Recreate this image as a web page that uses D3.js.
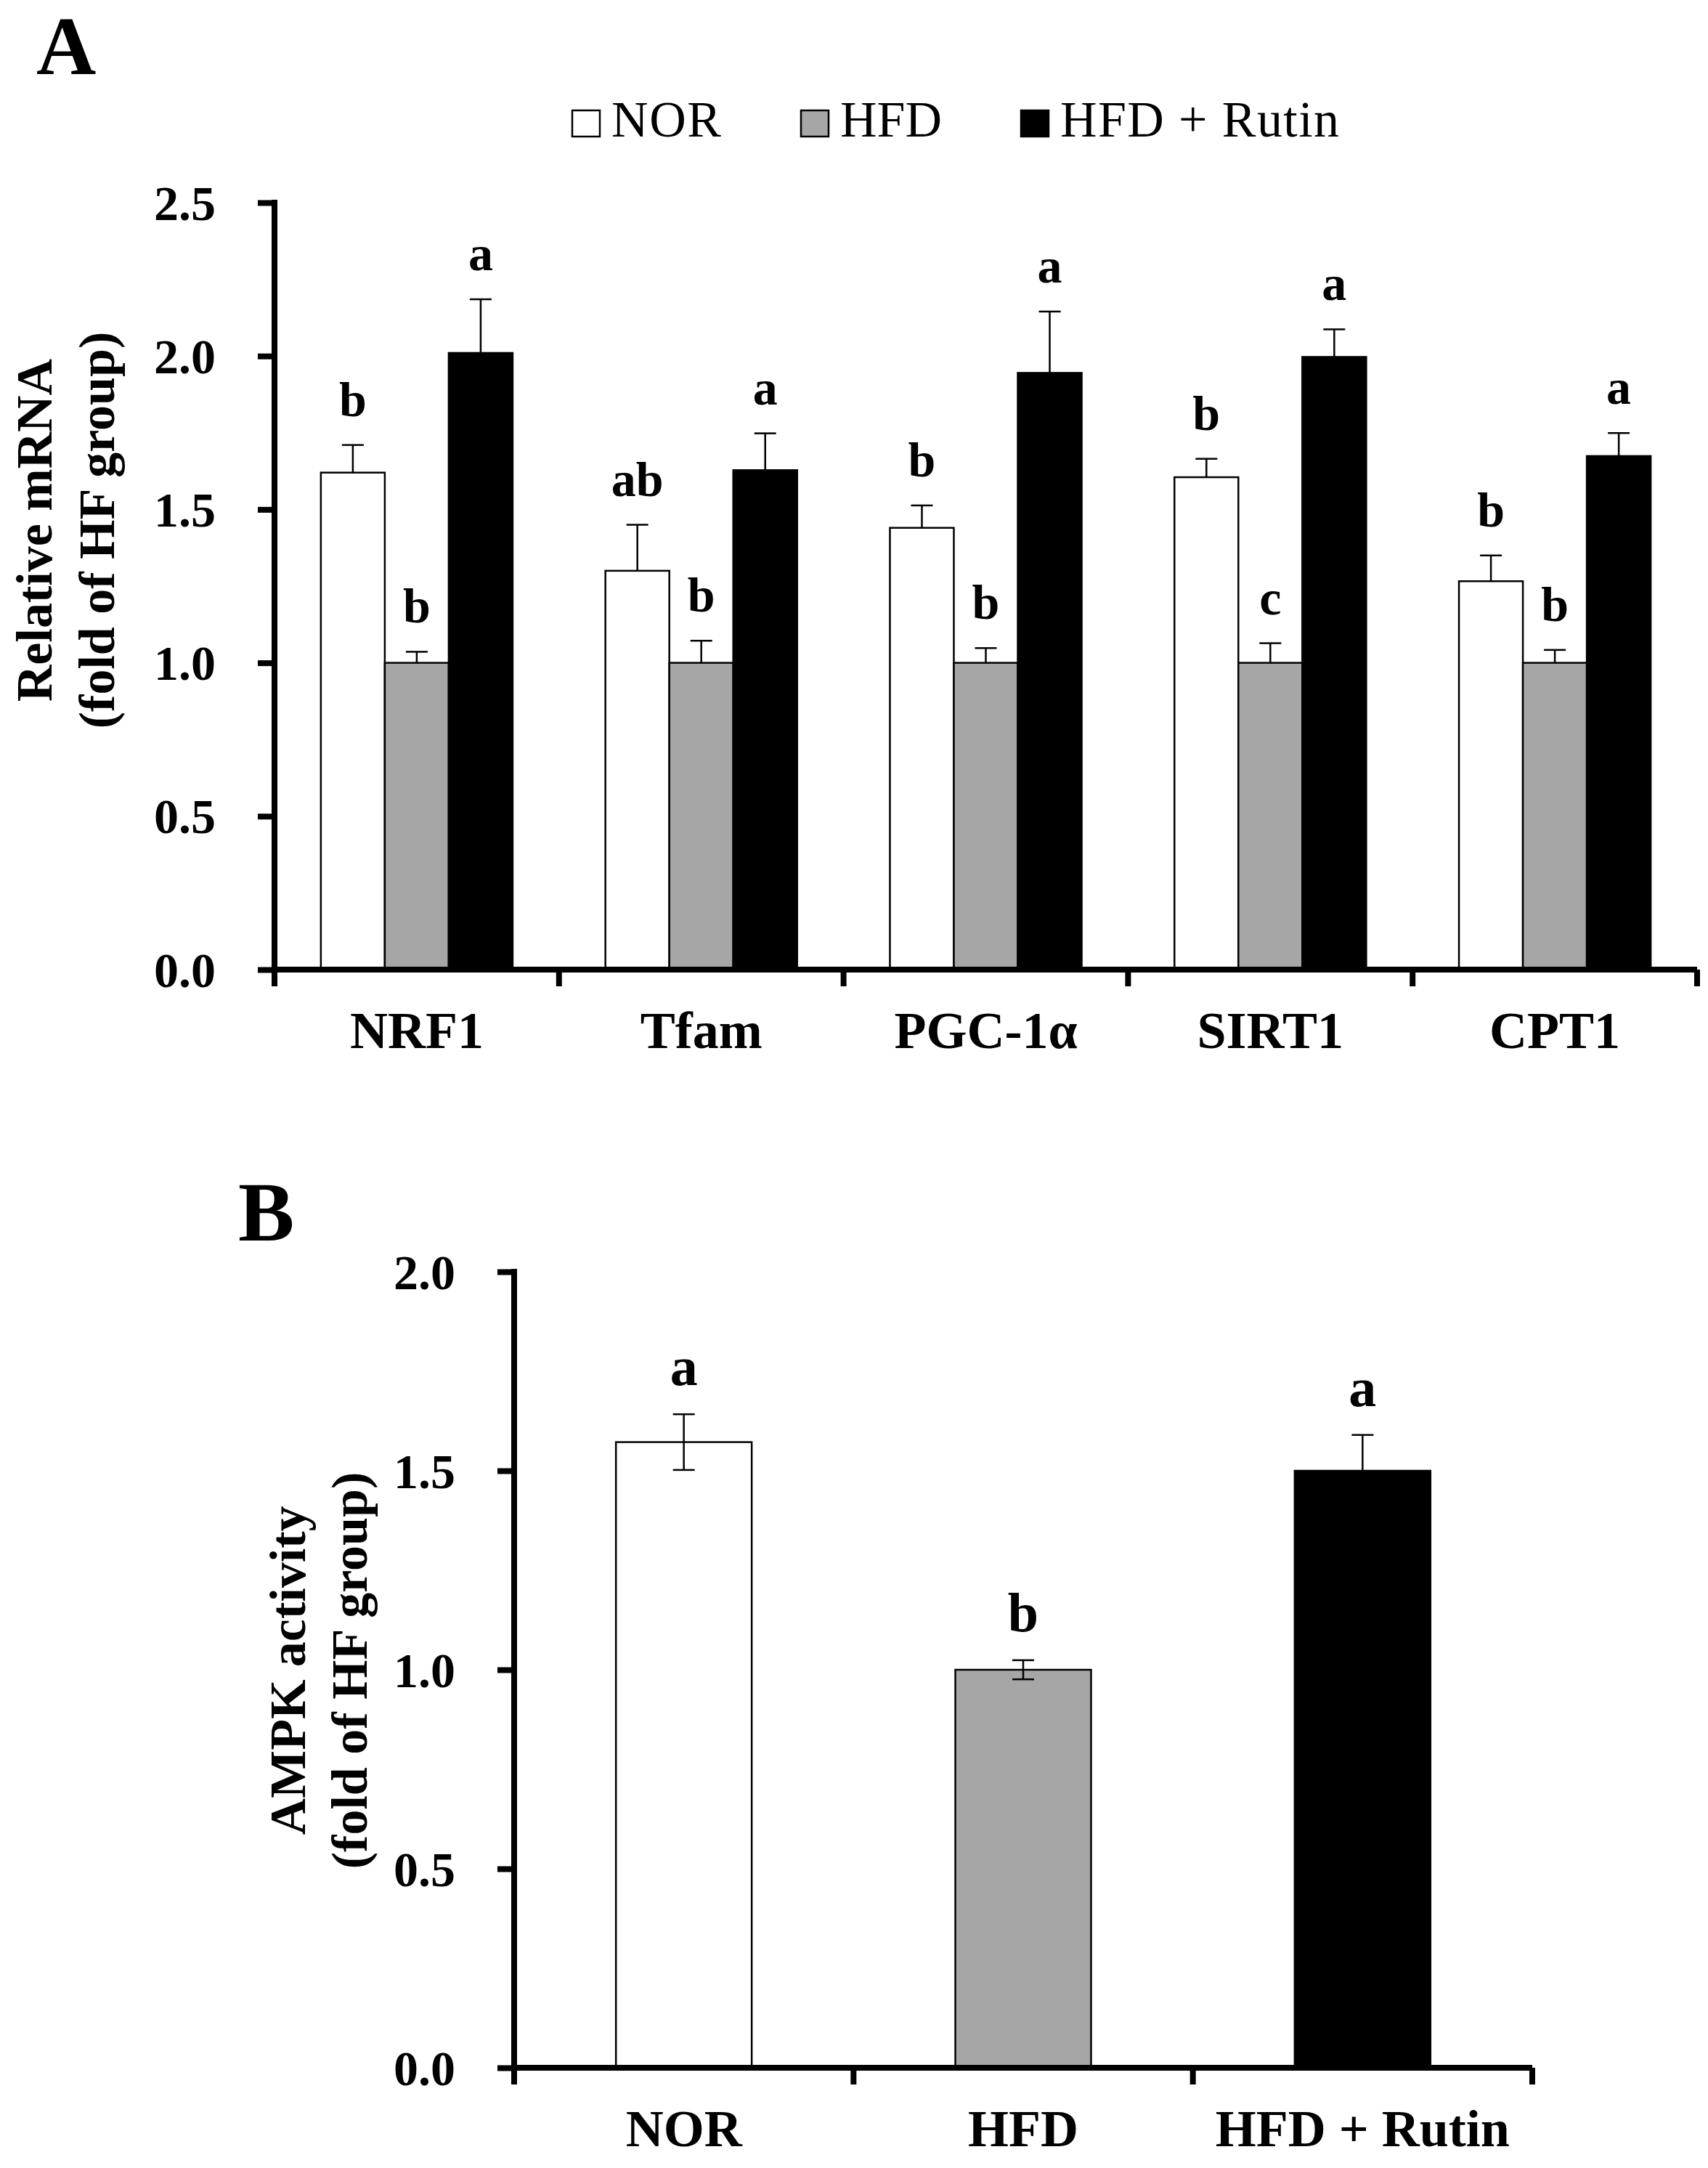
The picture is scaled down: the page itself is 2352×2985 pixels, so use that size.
<!DOCTYPE html>
<html>
<head>
<meta charset="utf-8">
<script src="https://cdn.jsdelivr.net/npm/d3@7"></script>
<style>
  body { margin: 0; background: #fff; }
  svg { display: block; font-family: "Liberation Serif", "Times New Roman", serif; }
</style>
</head>
<body>
<div id="chart"></div>
<script>
// ---- panel A data: relative mRNA (fold of HF group) ----
const genes = ['NRF1', 'Tfam', 'PGC-1α', 'SIRT1', 'CPT1'];
const groups = ['NOR', 'HFD', 'HFD + Rutin'];
const norMean = [1.62, 1.30, 1.44, 1.605, 1.266];
const norErr = [0.09, 0.15, 0.073, 0.06, 0.084];
const hfdMean = [1.0, 1.0, 1.0, 1.0, 1.0];
const hfdErr = [0.036, 0.072, 0.048, 0.064, 0.042];
const rutinMean = [2.01, 1.628, 1.945, 1.997, 1.674];
const rutinErr = [0.175, 0.12, 0.2, 0.09, 0.075];
const norLetters = ['b', 'ab', 'b', 'b', 'b'];
const hfdLetters = ['b', 'b', 'b', 'c', 'b'];
const rutinLetters = ['a', 'a', 'a', 'a', 'a'];
const yTicksA = [0, 0.5, 1.0, 1.5, 2.0, 2.5];

// ---- panel B data: AMPK activity ----
const ampkMean = [1.572, 1.0, 1.5];
const ampkErr = [0.07, 0.024, 0.09];
const ampkLetters = ['a', 'b', 'a'];
const yTicksB = [0, 0.5, 1.0, 1.5, 2.0];

const colors = { 'NOR': '#ffffff', 'HFD': '#a6a6a6', 'HFD + Rutin': '#000000' };
const serif = '"Liberation Serif", "Times New Roman", serif';

const width = 2352;
const height = 2985;

const svg = d3.select('#chart')
  .append('svg')
  .attr('width', width)
  .attr('height', height);

function styleAxis(g) {
  g.attr('font-family', serif);
  g.select('.domain').attr('stroke', '#000').attr('stroke-width', 8);
  g.selectAll('.tick line').attr('stroke', '#000').attr('stroke-width', 8);
  g.selectAll('text').attr('fill', '#000').attr('font-weight', 'bold');
}

// draws one bar panel; rows = [{cat, sub, group, value, err, letter}]
function drawPanel(opts) {
  const { left, right, top, bottom, yMax, ticks, cats, rows, inner, outer,
          subKeys, bothErr, letterSize } = opts;

  const y = d3.scaleLinear().domain([0, yMax]).range([bottom, top]);
  const x = d3.scaleBand().domain(cats).range([left, right])
    .paddingInner(inner).paddingOuter(outer);
  const xSub = d3.scaleBand().domain(subKeys).range([0, x.bandwidth()]);

  const g = svg.append('g');

  // bars
  const bars = g.selectAll('g.bar')
    .data(rows)
    .join('g')
    .attr('class', 'bar')
    .attr('transform', d => `translate(${x(d.cat) + xSub(d.sub)},0)`);

  bars.append('rect')
    .attr('x', 0)
    .attr('y', d => y(d.value))
    .attr('width', xSub.bandwidth())
    .attr('height', d => y(0) - y(d.value))
    .attr('fill', d => colors[d.group])
    .attr('stroke', '#000')
    .attr('stroke-width', 2.5);

  // error bars
  const cx = xSub.bandwidth() / 2;
  bars.append('line')
    .attr('x1', cx).attr('x2', cx)
    .attr('y1', d => bothErr ? y(d.value - d.err) : y(d.value))
    .attr('y2', d => y(d.value + d.err))
    .attr('stroke', '#000').attr('stroke-width', 2.5);
  bars.append('line')
    .attr('x1', cx - 15).attr('x2', cx + 15)
    .attr('y1', d => y(d.value + d.err))
    .attr('y2', d => y(d.value + d.err))
    .attr('stroke', '#000').attr('stroke-width', 2.5);
  if (bothErr) {
    bars.append('line')
      .attr('x1', cx - 15).attr('x2', cx + 15)
      .attr('y1', d => y(d.value - d.err))
      .attr('y2', d => y(d.value - d.err))
      .attr('stroke', '#000').attr('stroke-width', 2.5);
  }

  // significance letters
  bars.append('text')
    .attr('x', cx)
    .attr('y', d => y(d.value + d.err) - 40)
    .attr('text-anchor', 'middle')
    .attr('font-size', letterSize)
    .attr('font-weight', 'bold')
    .text(d => d.letter);

  // y axis
  const yAxis = g.append('g')
    .attr('transform', `translate(${left},0)`)
    .call(d3.axisLeft(y).tickValues(ticks).tickFormat(d3.format('.1f'))
      .tickSize(23).tickSizeOuter(0).tickPadding(58))
    .call(styleAxis);
  yAxis.selectAll('text').attr('font-size', 68).attr('dy', '0.34em');
  yAxis.select('.domain').attr('d', `M0,${bottom}V${top - 4}`);

  // x axis (labels at centres, ticks at band edges)
  const xAxis = g.append('g')
    .attr('transform', `translate(0,${bottom})`)
    .call(d3.axisBottom(x).tickSize(0).tickSizeOuter(0))
    .call(styleAxis);
  xAxis.select('.domain').attr('d', `M${left - 4},0H${right}`);
  xAxis.selectAll('text').attr('font-size', 72).attr('dy', 0).attr('y', 108);

  const edges = d3.range(cats.length + 1).map(i => left + i * x.step());
  xAxis.selectAll('line.edge')
    .data(edges)
    .join('line')
    .attr('class', 'edge')
    .attr('x1', d => d).attr('x2', d => d)
    .attr('y1', 0).attr('y2', 23)
    .attr('stroke', '#000').attr('stroke-width', 8);

  return { x, y };
}

// ---------------- Panel A ----------------
const rowsA = [];
genes.forEach((gene, i) => {
  rowsA.push({ cat: gene, sub: 'NOR', group: 'NOR', value: norMean[i], err: norErr[i], letter: norLetters[i] });
  rowsA.push({ cat: gene, sub: 'HFD', group: 'HFD', value: hfdMean[i], err: hfdErr[i], letter: hfdLetters[i] });
  rowsA.push({ cat: gene, sub: 'HFD + Rutin', group: 'HFD + Rutin', value: rutinMean[i], err: rutinErr[i], letter: rutinLetters[i] });
});

drawPanel({
  left: 378, right: 2337, top: 279, bottom: 1335, yMax: 2.5, ticks: yTicksA,
  cats: genes, rows: rowsA, inner: 0.326, outer: 0.163,
  subKeys: groups, bothErr: false, letterSize: 68
});

// legend
const legendX = [788, 1103, 1406];
const legend = svg.append('g').selectAll('g')
  .data(groups)
  .join('g')
  .attr('transform', (d, i) => `translate(${legendX[i]},152)`);
legend.append('rect')
  .attr('width', 38).attr('height', 36)
  .attr('fill', d => colors[d])
  .attr('stroke', '#000').attr('stroke-width', 2.5);
legend.append('text')
  .attr('x', 54).attr('y', 36)
  .attr('font-size', 70)
  .attr('textLength', (d, i) => [151, 140, 384][i])
  .text(d => d);

// y title A
const titleA = svg.append('g').attr('font-weight', 'bold').attr('font-size', 70);
titleA.append('text').attr('transform', 'translate(71,730) rotate(-90)')
  .attr('text-anchor', 'middle').text('Relative mRNA');
titleA.append('text').attr('transform', 'translate(157,730) rotate(-90)')
  .attr('text-anchor', 'middle').text('(fold of HF group)');

svg.append('text').attr('x', 50).attr('y', 102)
  .attr('font-size', 114).attr('font-weight', 'bold').text('A');

// ---------------- Panel B ----------------
const rowsB = groups.map((grp, i) => ({
  cat: grp, sub: 'one', group: grp, value: ampkMean[i], err: ampkErr[i], letter: ampkLetters[i]
}));

drawPanel({
  left: 708, right: 2110, top: 1751, bottom: 2847, yMax: 2.0, ticks: yTicksB,
  cats: groups, rows: rowsB, inner: 0.6, outer: 0.3,
  subKeys: ['one'], bothErr: true, letterSize: 76
});

const titleB = svg.append('g').attr('font-weight', 'bold').attr('font-size', 70);
titleB.append('text').attr('transform', 'translate(420,2300) rotate(-90)')
  .attr('text-anchor', 'middle').text('AMPK activity');
titleB.append('text').attr('transform', 'translate(505,2300) rotate(-90)')
  .attr('text-anchor', 'middle').text('(fold of HF group)');

svg.append('text').attr('x', 328).attr('y', 1708)
  .attr('font-size', 116).attr('font-weight', 'bold').text('B');
</script>
</body>
</html>
